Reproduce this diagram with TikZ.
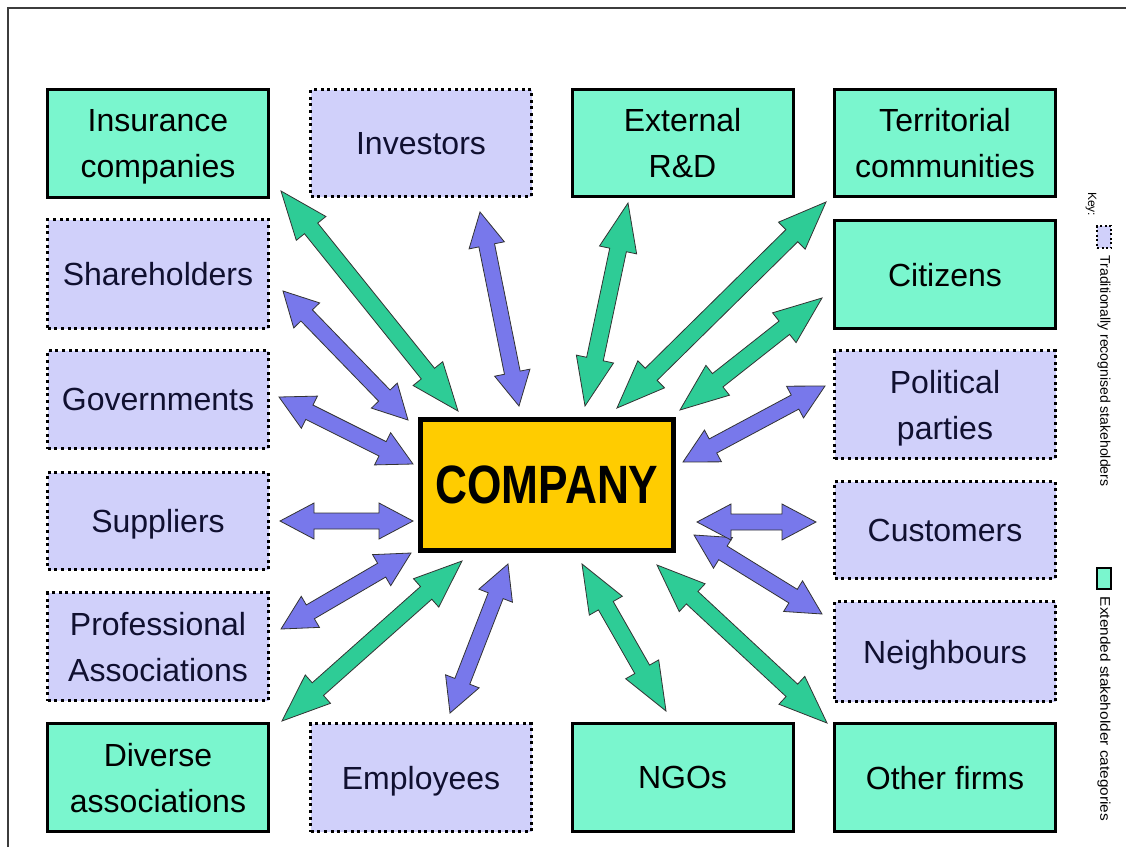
\documentclass[tikz,border=0pt]{standalone}
\usepackage{fontspec}
\setmainfont{Liberation Sans}
\usetikzlibrary{calc}
\definecolor{gfill}{RGB}{122,246,206}
\definecolor{lfill}{RGB}{208,208,250}
\definecolor{garrow}{RGB}{46,204,150}
\definecolor{barrow}{RGB}{120,120,235}
\definecolor{cfill}{RGB}{255,204,0}
\definecolor{navytext}{RGB}{16,16,48}
\definecolor{frame}{RGB}{60,60,60}
\tikzset{
  box/.style={minimum width=221pt, minimum height=108pt, inner sep=0pt, align=center,
    text depth=0pt, font=\fontsize{32}{46}\selectfont},
  gbox/.style={box, fill=gfill, draw=black, line width=3pt, text=black},
  lbox/.style={box, fill=lfill, draw=black, line width=3pt, dash pattern=on 3pt off 3.7pt, text=navytext},
  garr/.style={fill=garrow, draw=black!80, line width=0.8pt, line join=miter},
  barr/.style={fill=barrow, draw=black!80, line width=0.8pt, line join=miter},
}
% #1 start tip, #2 end tip, #3 style, #4 head length, #5 head half width, #6 shaft half width
\newcommand{\dblarrow}[6]{%
  \draw[#3] (#1)
    -- ($($(#1)!#4!(#2)$)!#5!90:(#2)$)
    -- ($($(#1)!#4!(#2)$)!#6!90:(#2)$)
    -- ($($(#2)!#4!(#1)$)!#6!-90:(#1)$)
    -- ($($(#2)!#4!(#1)$)!#5!-90:(#1)$)
    -- (#2)
    -- ($($(#2)!#4!(#1)$)!#5!90:(#1)$)
    -- ($($(#2)!#4!(#1)$)!#6!90:(#1)$)
    -- ($($(#1)!#4!(#2)$)!#6!-90:(#2)$)
    -- ($($(#1)!#4!(#2)$)!#5!-90:(#2)$)
    -- cycle;}
\newcommand{\garrow}[2]{\dblarrow{#1}{#2}{garr}{48pt}{19pt}{8.5pt}}
\newcommand{\barrowx}[2]{\dblarrow{#1}{#2}{barr}{34pt}{18pt}{8pt}}
\begin{document}
\begin{tikzpicture}[x=1pt, y=-1pt]
\useasboundingbox (0,0) rectangle (1126,847);
\fill[white] (0,0) rectangle (1126,847);
% frame
\coordinate (fr-tl) at (7.5,8);
\coordinate (fr-bl) at (7.5,847);
\coordinate (fr-tr) at (1126,8);
\draw[frame, line width=2pt] (fr-bl) -- (fr-tl) -- (fr-tr);

% company
\node[draw=black, fill=cfill, line width=5pt, minimum width=253pt, minimum height=131pt, inner sep=0pt,
  font=\fontsize{54}{60}\selectfont\bfseries] (co) at (547,485) {\scalebox{0.82}[1]{COMPANY}};

% left column
\node[gbox, minimum height=108pt] (ins) at (158,143.5) {Insurance\\companies};
\node[lbox, minimum height=109pt] (sha) at (158,274) {Shareholders};
\node[lbox, minimum height=98pt] (gov) at (158,399.5) {Governments};
\node[lbox, minimum height=97pt] (sup) at (158,521) {Suppliers};
\node[lbox, minimum height=108pt] (pro) at (158,646.5) {Professional\\Associations};
\node[gbox, minimum height=108pt] (div) at (158,777.5) {Diverse\\associations};
% middle top / bottom
\node[lbox, minimum height=107pt] (inv) at (421,143) {Investors};
\node[gbox, minimum height=107pt] (ext) at (682.5,143) {External\\R\&D};
\node[lbox, minimum height=108pt] (emp) at (421,777.5) {Employees};
\node[gbox, minimum height=108pt] (ngo) at (682.5,777.5) {NGOs};
% right column
\node[gbox, minimum height=107pt] (ter) at (945,143) {Territorial\\communities};
\node[gbox, minimum height=108pt] (cit) at (945,274.5) {Citizens};
\node[lbox, minimum height=108pt] (pol) at (945,404.5) {Political\\parties};
\node[lbox, minimum height=97pt] (cus) at (945,530) {Customers};
\node[lbox, minimum height=100pt] (nei) at (945,651.5) {Neighbours};
\node[gbox, minimum height=108pt] (oth) at (945,777.5) {Other firms};

% arrow tips
\coordinate (ins-a) at (281,191);  \coordinate (ins-b) at (458,411);
\coordinate (inv-a) at (480,212);  \coordinate (inv-b) at (519,406);
\coordinate (ext-a) at (628,203);  \coordinate (ext-b) at (585,406);
\coordinate (ter-a) at (826,202);  \coordinate (ter-b) at (617,408);
\coordinate (cit-a) at (822,298);  \coordinate (cit-b) at (680,410);
\coordinate (sha-a) at (283,291);  \coordinate (sha-b) at (408,420);
\coordinate (gov-a) at (279,397);  \coordinate (gov-b) at (413,464);
\coordinate (sup-a) at (280,521);  \coordinate (sup-b) at (413,521);
\coordinate (pro-a) at (281,629);  \coordinate (pro-b) at (411,553);
\coordinate (div-a) at (282,721);  \coordinate (div-b) at (462,561);
\coordinate (emp-a) at (450,713);  \coordinate (emp-b) at (508,564);
\coordinate (ngo-a) at (666,711);  \coordinate (ngo-b) at (582,564);
\coordinate (oth-a) at (827,723);  \coordinate (oth-b) at (657,565);
\coordinate (nei-a) at (822,614);  \coordinate (nei-b) at (694,535);
\coordinate (cus-a) at (816,522);  \coordinate (cus-b) at (697,522);
\coordinate (pol-a) at (825,386);  \coordinate (pol-b) at (683,462);

\garrow{ins-a}{ins-b}
\barrowx{inv-a}{inv-b}
\garrow{ext-a}{ext-b}
\garrow{ter-a}{ter-b}
\garrow{cit-a}{cit-b}
\barrowx{sha-a}{sha-b}
\barrowx{gov-a}{gov-b}
\barrowx{sup-a}{sup-b}
\barrowx{pro-a}{pro-b}
\garrow{div-a}{div-b}
\barrowx{emp-a}{emp-b}
\garrow{ngo-a}{ngo-b}
\garrow{oth-a}{oth-b}
\barrowx{nei-a}{nei-b}
\barrowx{cus-a}{cus-b}
\barrowx{pol-a}{pol-b}

% key
\node[rotate=-90, font=\fontsize{12}{14}\selectfont, inner sep=0pt] (key) at (1091,204) {Key:};
\node[draw=black, fill=lfill, line width=2pt, dash pattern=on 2pt off 2.5pt, minimum width=14pt, minimum height=22pt, inner sep=0pt] (keyl) at (1104,237) {};
\node[rotate=-90, font=\fontsize{14}{16}\selectfont, inner sep=0pt] (keylt) at (1104,371) {Traditionally recognised stakeholders};
\node[draw=black, fill=gfill, line width=2pt, minimum width=14pt, minimum height=21pt, inner sep=0pt] (keyg) at (1104,578) {};
\node[rotate=-90, font=\fontsize{14}{16}\selectfont, inner sep=0pt] (keygt) at (1104,709) {\scalebox{1.1}[1]{Extended stakeholder categories}};
\end{tikzpicture}
\end{document}
